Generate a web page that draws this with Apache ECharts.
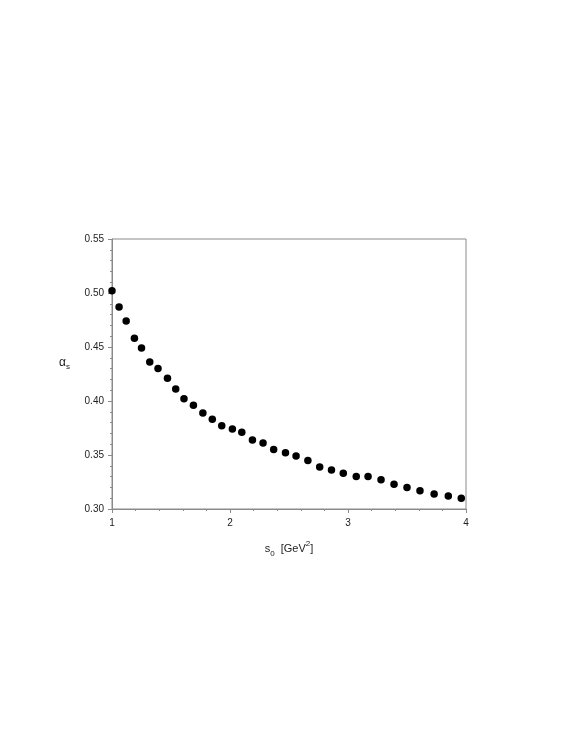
<!DOCTYPE html>
<html>
<head>
<meta charset="utf-8">
<script src="https://cdn.jsdelivr.net/npm/echarts@6/dist/echarts.min.js"></script>
<style>
html,body{margin:0;padding:0;background:#fff;}
#chart{width:575px;height:747px;}
</style>
</head>
<body>
<div id="chart"></div>
<script>
var s0Values = [1.00,1.06,1.12,1.19,1.25,1.32,1.39,1.47,1.54,1.61,1.69,1.77,1.85,1.93,2.02,2.10,2.19,2.28,2.37,2.47,2.56,2.66,2.76,2.86,2.96,3.07,3.17,3.28,3.39,3.50,3.61,3.73,3.85,3.96];
var alphaValues = [0.502,0.487,0.474,0.458,0.449,0.436,0.430,0.421,0.411,0.402,0.396,0.389,0.383,0.377,0.374,0.371,0.364,0.361,0.355,0.352,0.349,0.345,0.339,0.336,0.333,0.330,0.330,0.327,0.323,0.320,0.317,0.314,0.312,0.310];
var xTickLabels = ['1','2','3','4'];
var yTickLabels = ['0.30','0.35','0.40','0.45','0.50','0.55'];

var points = s0Values.map(function(x,i){return [x, alphaValues[i]];});
var font = 'Liberation Sans, Arial, sans-serif';
var axisColor = '#8a8a8a';
var chart = echarts.init(document.getElementById('chart'));
chart.setOption({
  animation:false,
  backgroundColor:'#fff',
  grid:{left:112,right:109,top:239,bottom:238,show:true,borderColor:axisColor,borderWidth:1},
  xAxis:{
    type:'value',min:1,max:4,interval:1,
    axisLine:{show:true,lineStyle:{color:axisColor,width:1}},
    axisTick:{show:true,inside:false,length:4,lineStyle:{color:axisColor}},
    minorTick:{show:true,splitNumber:5,length:2,lineStyle:{color:axisColor}},
    splitLine:{show:false},
    axisLabel:{margin:9,color:'#222',fontFamily:font,fontSize:10,
      formatter:function(v){var i=Math.round(v-1);return xTickLabels[i]!==undefined?xTickLabels[i]:'';}},
    name:'{s|s}{sub|0}{n|  [GeV}{sup|2}{n|]}',
    nameLocation:'middle',nameGap:31,
    nameTextStyle:{
      color:'#222',fontFamily:font,
      rich:{
        s:{fontSize:11,fontFamily:font,color:'#222',lineHeight:18,verticalAlign:'middle'},
        n:{fontSize:11,fontFamily:font,color:'#222',lineHeight:18,verticalAlign:'middle'},
        sub:{fontSize:8,fontFamily:font,color:'#222',lineHeight:8,verticalAlign:'bottom'},
        sup:{fontSize:8,fontFamily:font,color:'#222',lineHeight:8,verticalAlign:'top'}
      }
    }
  },
  yAxis:{
    type:'value',min:0.30,max:0.55,interval:0.05,
    axisLine:{show:true,lineStyle:{color:axisColor,width:1}},
    axisTick:{show:true,inside:false,length:4,lineStyle:{color:axisColor}},
    minorTick:{show:true,splitNumber:5,length:2,lineStyle:{color:axisColor}},
    splitLine:{show:false},
    axisLabel:{margin:8,color:'#222',fontFamily:font,fontSize:10,
      formatter:function(v){var i=Math.round((v-0.30)/0.05);return yTickLabels[i]!==undefined?yTickLabels[i]:'';}},
    name:'{a|α}{s|s}',
    nameLocation:'middle',nameRotate:0,nameGap:42,
    nameTextStyle:{
      color:'#222',fontFamily:font,padding:[0,0,22,0],
      rich:{
        a:{fontSize:12,fontFamily:font,color:'#222',lineHeight:16,verticalAlign:'middle'},
        s:{fontSize:8,fontFamily:font,color:'#222',lineHeight:8,verticalAlign:'bottom'}
      }
    }
  },
  series:[{
    type:'scatter',
    data:points,
    symbol:'circle',
    symbolSize:7.5,
    itemStyle:{color:'#000',opacity:1}
  }]
});
</script>
</body>
</html>
